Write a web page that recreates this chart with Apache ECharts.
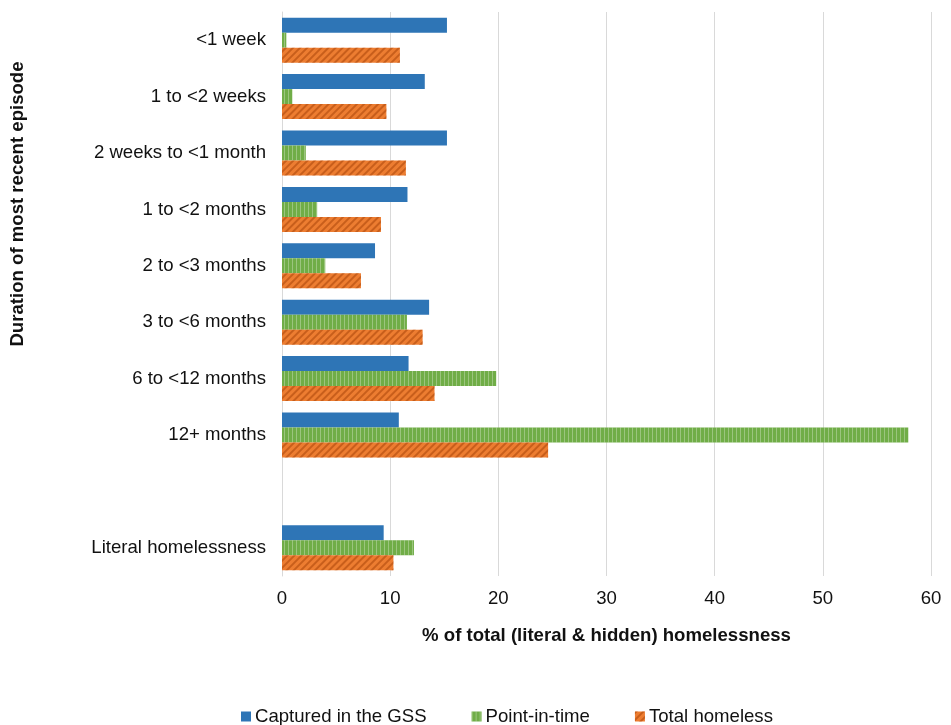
<!DOCTYPE html>
<html>
<head>
<meta charset="utf-8">
<script src="https://cdn.jsdelivr.net/npm/echarts@6/dist/echarts.min.js"></script>
<style>
  html, body { margin: 0; padding: 0; background: #fff; }
  #chart { width: 951px; height: 725px; }
</style>
</head>
<body>
<div id="chart"></div>
<script>
// categories, top to bottom (blank row before the literal total)
var categories = ['<1 week', '1 to <2 weeks', '2 weeks to <1 month', '1 to <2 months',
  '2 to <3 months', '3 to <6 months', '6 to <12 months', '12+ months', '', 'Literal homelessness'];

var gss = [15.25, 13.2, 15.25, 11.6, 8.6, 13.6, 11.7, 10.8, null, 9.4];
var pointInTime = [0.4, 0.95, 2.2, 3.25, 4.0, 11.55, 19.8, 57.9, null, 12.2];
var totalHomeless = [10.9, 9.65, 11.45, 9.15, 7.3, 13.0, 14.1, 24.6, null, 10.3];

var seriesNames = ['Captured in the GSS', 'Point-in-time', 'Total homeless'];

var font = '"Liberation Sans", Arial, sans-serif';

var chart = echarts.init(document.getElementById('chart'));

var option = {
  animation: false,
  backgroundColor: '#fff',
  grid: { left: 282, right: 20, top: 12, bottom: 149 },
  legend: {
    left: 236,
    top: 702,
    itemWidth: 10,
    itemHeight: 10,
    itemGap: 45,
    icon: 'rect',
    textStyle: { fontFamily: font, fontSize: 18.6, color: '#111', padding: [0, 0, 0, -1] },
    data: seriesNames
  },
  xAxis: {
    type: 'value',
    min: 0,
    max: 60,
    interval: 10,
    axisLine: { show: false },
    axisTick: { show: false },
    axisLabel: { fontFamily: font, fontSize: 18.6, color: '#111', margin: 13 },
    splitLine: { lineStyle: { color: '#d9d9d9', width: 1 } },
    name: '% of total (literal & hidden) homelessness',
    nameLocation: 'middle',
    nameGap: 50,
    nameTextStyle: { fontFamily: font, fontSize: 18.6, fontWeight: 'bold', color: '#111' }
  },
  yAxis: {
    type: 'category',
    data: categories,
    inverse: true,
    axisLine: { show: true, lineStyle: { color: '#d9d9d9', width: 1 } },
    axisTick: { show: false },
    axisLabel: { fontFamily: font, fontSize: 18.6, color: '#111', margin: 16 }
  },
  graphic: [{
    type: 'text',
    x: 18,
    y: 204,
    rotation: Math.PI / 2,
    style: {
      text: 'Duration of most recent episode',
      font: 'bold 18.6px "Liberation Sans", Arial, sans-serif',
      fill: '#111',
      align: 'center',
      verticalAlign: 'middle'
    }
  }],
  series: [
    {
      name: seriesNames[0],
      type: 'bar',
      data: gss,
      barWidth: 15,
      barGap: '0%',
      itemStyle: { color: '#2e75b6' }
    },
    {
      name: seriesNames[1],
      type: 'bar',
      data: pointInTime,
      barWidth: 15,
      barGap: '0%',
      itemStyle: {
        color: '#70ad47',
        decal: {
          symbol: 'rect',
          symbolSize: 1,
          color: 'rgba(255,255,255,0.3)',
          dashArrayX: [1, 3],
          dashArrayY: [10, 0]
        }
      }
    },
    {
      name: seriesNames[2],
      type: 'bar',
      data: totalHomeless,
      barWidth: 15,
      barGap: '0%',
      itemStyle: {
        color: '#ed7d31',
        decal: {
          symbol: 'rect',
          symbolSize: 1,
          color: 'rgba(170,70,10,0.55)',
          dashArrayX: [10, 0],
          dashArrayY: [2, 3],
          rotation: -Math.PI / 4
        }
      }
    }
  ]
};

chart.setOption(option);
</script>
</body>
</html>
